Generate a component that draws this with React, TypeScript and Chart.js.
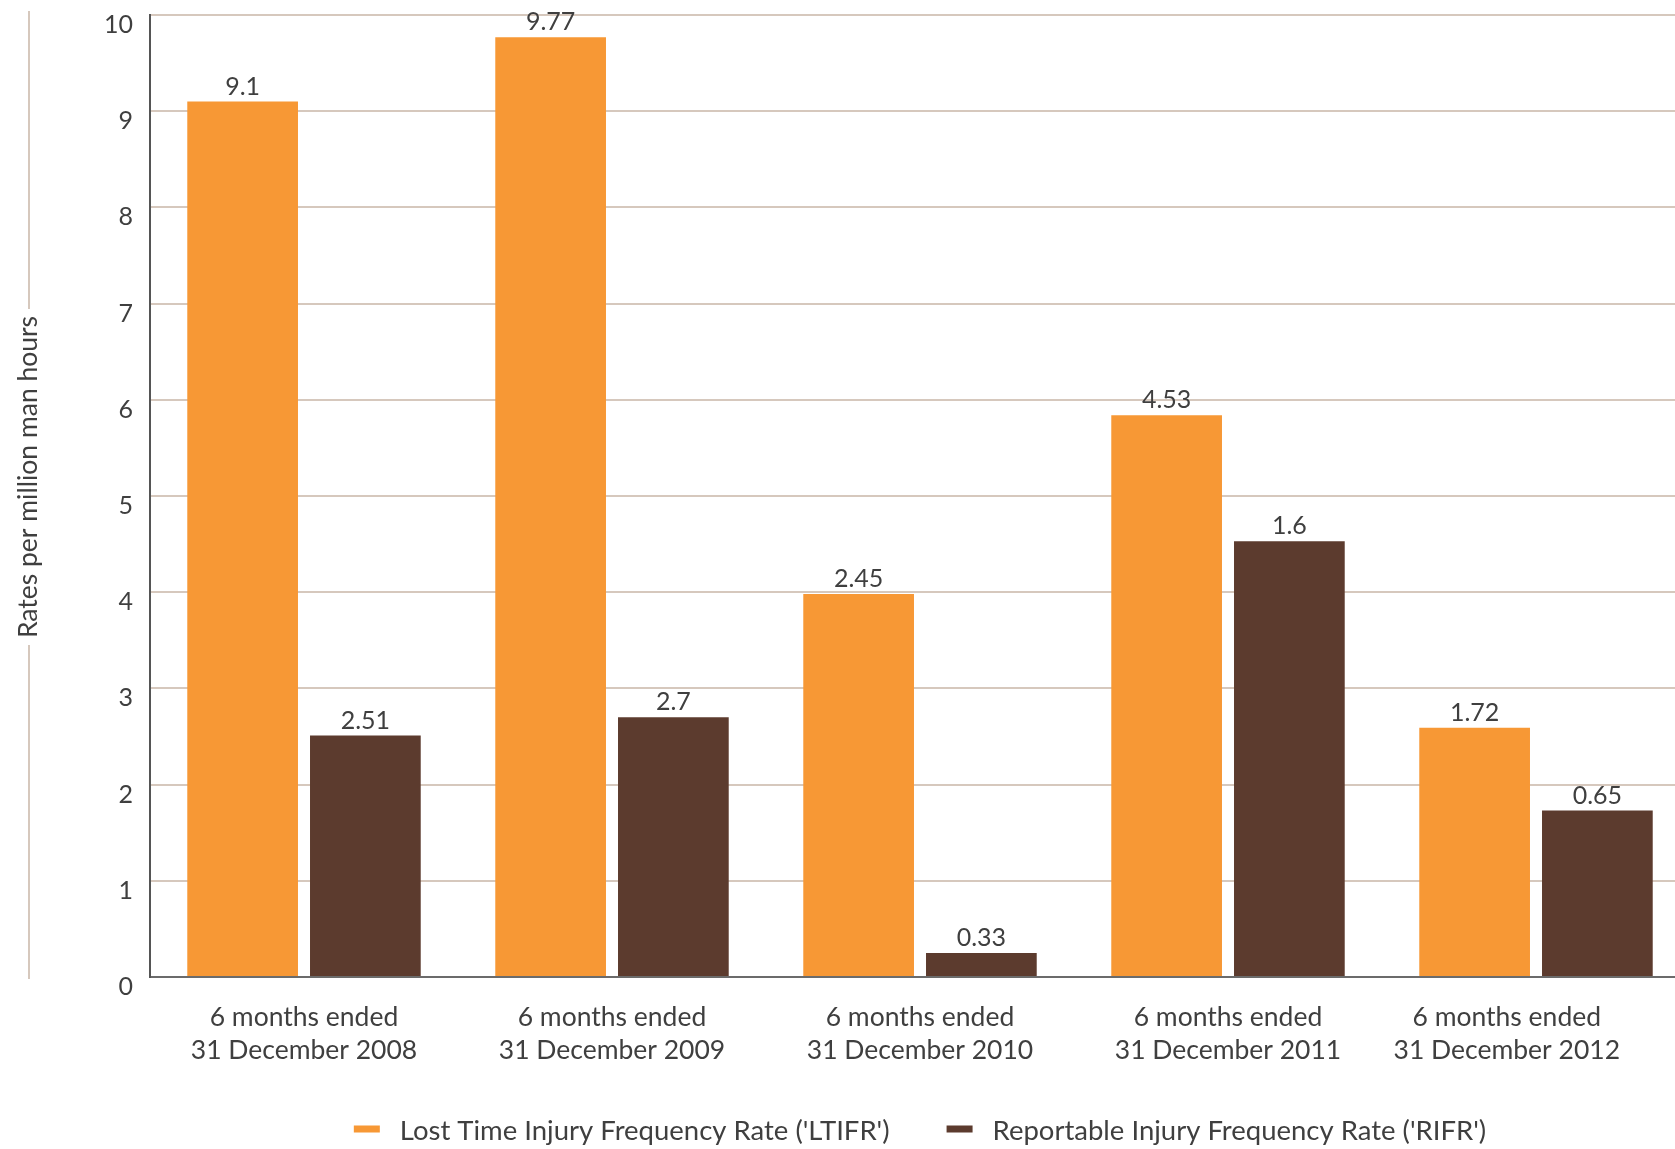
import React, { useEffect, useRef } from "react";
import { Chart, registerables } from "chart.js";

Chart.register(...registerables);

const categories: string[][] = [
  ["6 months ended", "31 December 2008"],
  ["6 months ended", "31 December 2009"],
  ["6 months ended", "31 December 2010"],
  ["6 months ended", "31 December 2011"],
  ["6 months ended", "31 December 2012"],
];
const ltifrValues = [9.1, 9.77, 3.98, 5.84, 2.59];
const rifrValues = [2.51, 2.7, 0.25, 4.53, 1.73];
const ltifrLabels = ["9.1", "9.77", "2.45", "4.53", "1.72"];
const rifrLabels = ["2.51", "2.7", "0.33", "1.6", "0.65"];
const seriesNames = [
  "Lost Time Injury Frequency Rate ('LTIFR')",
  "Reportable Injury Frequency Rate ('RIFR')",
];
const yTitle = "Rates per million man hours";
const yMin = 0;
const yMax = 10;
const yStep = 1;

const VIEW_W = 1675;
const VIEW_H = 1149;
const ORANGE = "#F79835";
const BROWN = "#5C3B2E";
const TEXT = "#3f3f3f";
const GRID = "#d6c8bd";
const FONT = "Lato, 'Open Sans', sans-serif";

const valueLabels = [ltifrLabels, rifrLabels];

const decorPlugin = {
  id: "decor",
  afterDatasetsDraw(chart: any) {
    const ctx = chart.ctx;
    ctx.save();
    ctx.fillStyle = TEXT;
    ctx.font = `25px ${FONT}`;
    ctx.textAlign = "center";
    ctx.textBaseline = "alphabetic";
    chart.data.datasets.forEach((ds: any, di: number) => {
      const meta = chart.getDatasetMeta(di);
      meta.data.forEach((bar: any, i: number) => {
        ctx.fillText(valueLabels[di][i], bar.x, bar.y - 7);
      });
    });
    ctx.restore();
  },
  afterDraw(chart: any) {
    const ctx = chart.ctx;
    const area = chart.chartArea;

    // Category labels (kept inside the visible frame)
    ctx.save();
    ctx.font = `26.5px ${FONT}`;
    ctx.fillStyle = TEXT;
    ctx.textAlign = "center";
    ctx.textBaseline = "middle";
    const xs = chart.scales.x;
    (chart.data.labels as string[][]).forEach((lines, i) => {
      const maxW = Math.max(...lines.map((l) => ctx.measureText(l).width));
      let x = xs.getPixelForValue(i);
      x = Math.min(x, VIEW_W - 55 - maxW / 2);
      lines.forEach((l, k) => {
        ctx.fillText(l, x, area.bottom + 40 + k * 33);
      });
    });
    ctx.restore();

    ctx.save();
    // Y title with decorative line
    ctx.font = `26.5px ${FONT}`;
    const tw = ctx.measureText(yTitle).width;
    const cx = 28;
    const cy = (area.top + area.bottom) / 2 - 19;
    ctx.strokeStyle = GRID;
    ctx.lineWidth = 2;
    ctx.beginPath();
    ctx.moveTo(29, area.top - 4);
    ctx.lineTo(29, cy - tw / 2 - 7);
    ctx.moveTo(29, cy + tw / 2 + 7);
    ctx.lineTo(29, area.bottom + 2);
    ctx.stroke();
    ctx.translate(cx, cy);
    ctx.rotate(-Math.PI / 2);
    ctx.fillStyle = TEXT;
    ctx.textAlign = "center";
    ctx.textBaseline = "middle";
    ctx.fillText(yTitle, 0, 0);
    ctx.restore();

    // Legend
    ctx.save();
    ctx.font = `27.5px ${FONT}`;
    ctx.textBaseline = "middle";
    ctx.textAlign = "left";
    const sw = 26;
    const sgap = 20;
    const igap = 57;
    const widths = chart.data.datasets.map((d: any) => ctx.measureText(d.label).width);
    let total = 0;
    widths.forEach((w: number, i: number) => {
      total += sw + sgap + w + (i > 0 ? igap : 0);
    });
    let x = (area.left + area.right) / 2 - total / 2;
    const ly = chart.height - 20;
    chart.data.datasets.forEach((d: any, i: number) => {
      ctx.fillStyle = d.backgroundColor;
      ctx.fillRect(x, ly - 3.5, sw, 7);
      x += sw + sgap;
      ctx.fillStyle = TEXT;
      ctx.fillText(d.label, x, ly + 2);
      x += widths[i] + igap;
    });
    ctx.restore();
  },
};

export default function App() {
  const ref = useRef<HTMLCanvasElement | null>(null);
  useEffect(() => {
    if (!ref.current) return;
    const chart = new Chart(ref.current, {
      type: "bar",
      data: {
        labels: categories,
        datasets: [
          {
            label: seriesNames[0],
            data: ltifrValues,
            backgroundColor: ORANGE,
            categoryPercentage: 0.797,
            barPercentage: 0.902,
          },
          {
            label: seriesNames[1],
            data: rifrValues,
            backgroundColor: BROWN,
            categoryPercentage: 0.797,
            barPercentage: 0.902,
          },
        ],
      },
      options: {
        responsive: false,
        animation: false,
        layout: { padding: { top: 15, right: 0, left: 0, bottom: 0 } },
        plugins: {
          legend: { display: false },
          tooltip: { enabled: false },
          title: { display: false },
        },
        scales: {
          x: {
            grid: { display: false, drawTicks: false },
            border: { display: true, color: "#6b6b6b", width: 2 },
            ticks: { display: false },
            afterFit: (s: any) => {
              s.height = 172;
              s.paddingLeft = 0;
              s.paddingRight = 0;
            },
          },
          y: {
            min: yMin,
            max: yMax,
            grid: { color: GRID, lineWidth: 2, drawTicks: false },
            border: { display: true, color: "#555555", width: 2 },
            ticks: {
              stepSize: yStep,
              color: TEXT,
              font: { family: FONT, size: 25 },
              padding: 17,
              labelOffset: 10,
            },
            afterFit: (s: any) => {
              s.width = 150;
              s.paddingTop = 0;
              s.paddingBottom = 0;
            },
          },
        },
      },
      plugins: [decorPlugin],
    });
    return () => chart.destroy();
  }, []);
  return (
    <div
      style={{
        position: "absolute",
        left: 0,
        top: 0,
        width: VIEW_W,
        height: VIEW_H,
        overflow: "hidden",
      }}
    >
      <canvas ref={ref} width={1690} height={VIEW_H} style={{ display: "block" }} />
    </div>
  );
}
